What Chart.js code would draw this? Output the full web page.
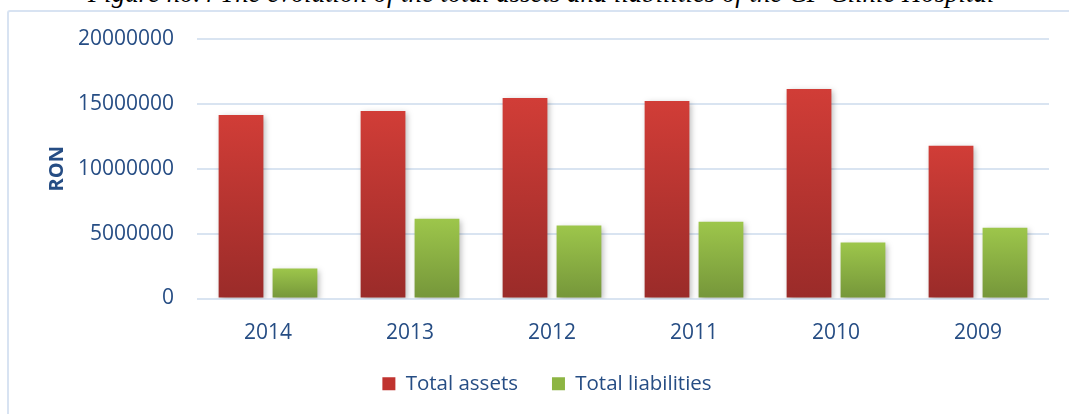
<!DOCTYPE html>
<html>
<head>
<meta charset="utf-8">
<script src="https://cdn.jsdelivr.net/npm/chart.js@4/dist/chart.umd.min.js"></script>
<style>
  html, body { margin: 0; padding: 0; background: #fff; overflow: hidden; }
  #wrap { position: relative; width: 1069px; height: 414px; }
  #title {
    position: absolute; left: 88px; top: -20px; white-space: nowrap;
    font-family: "Liberation Serif", serif; font-style: italic; font-size: 26.8px; line-height: 26px; color: #000;
  }
  #frame {
    position: absolute; left: 7px; top: 10px; width: 1100px; height: 450px;
    border-top: 2px solid #d8e3f2; border-left: 2px solid #d8e3f2; border-radius: 3px 0 0 0;
  }
  #c { position: absolute; left: 0; top: 0; }
</style>
</head>
<body>
<div id="wrap">
  <div id="title">Figure no.4 The evolution of the total assets and liabilities of the CF Clinic Hospital</div>
  <div id="frame"></div>
  <canvas id="c" width="1069" height="414"></canvas>
</div>
<script>
// values (RON)
const years = ['2014', '2013', '2012', '2011', '2010', '2009'];
const totalAssets = [14150000, 14460000, 15460000, 15230000, 16150000, 11770000];
const totalLiabilities = [2310000, 6150000, 5620000, 5920000, 4310000, 5460000];
const yTicks = [0, 5000000, 10000000, 15000000, 20000000];

const textBlue = '#264d84';

// vertical gradient running over each bar from its top to the baseline
function barGradient(top, bottom) {
  return function (ctx) {
    const chart = ctx.chart;
    const y = chart.scales.y;
    if (!y || ctx.raw == null) return bottom;
    const y0 = y.getPixelForValue(0);
    const y1 = y.getPixelForValue(ctx.raw);
    const g = chart.ctx.createLinearGradient(0, y1, 0, y0);
    g.addColorStop(0, top);
    g.addColorStop(1, bottom);
    return g;
  };
}

// soft drop shadow under the bars
const barShadow = {
  id: 'barShadow',
  beforeDatasetsDraw(chart) {
    const c = chart.ctx;
    c.save();
    c.shadowColor = 'rgba(0,0,0,0.28)';
    c.shadowBlur = 6;
    c.shadowOffsetX = 2;
    c.shadowOffsetY = 2;
  },
  afterDatasetsDraw(chart) {
    chart.ctx.restore();
  }
};

new Chart(document.getElementById('c'), {
  type: 'bar',
  data: {
    labels: years,
    datasets: [{
      label: 'Total assets',
      data: totalAssets,
      backgroundColor: barGradient('#d13d37', '#9a2b29'),
      borderWidth: 0,
      categoryPercentage: 0.76,
      barPercentage: 0.83
    }, {
      label: 'Total liabilities',
      data: totalLiabilities,
      backgroundColor: barGradient('#9dc64b', '#75963a'),
      borderWidth: 0,
      categoryPercentage: 0.76,
      barPercentage: 0.83
    }]
  },
  options: {
    responsive: false,
    animation: false,
    layout: { padding: { left: 45, right: 20, top: 39, bottom: 10 } },
    plugins: {
      tooltip: { enabled: false },
      legend: {
        position: 'bottom',
        labels: {
          color: textBlue,
          font: { family: 'Open Sans', size: 20.5 },
          boxWidth: 13,
          boxHeight: 13,
          padding: 34,
          generateLabels(chart) {
            const fills = ['#c0332f', '#8db543'];
            return chart.data.datasets.map((ds, i) => ({
              text: ds.label,
              fillStyle: fills[i],
              strokeStyle: fills[i],
              lineWidth: 0,
              fontColor: textBlue,
              datasetIndex: i
            }));
          }
        }
      }
    },
    scales: {
      x: {
        grid: { display: false, drawTicks: false },
        border: { display: false },
        ticks: { color: textBlue, font: { family: 'Open Sans', size: 21 }, padding: 22 },
        afterFit(scale) { scale.height = 41; }
      },
      y: {
        min: 0,
        max: 20000000,
        afterBuildTicks(scale) { scale.ticks = yTicks.map(v => ({ value: v })); },
        grid: { color: '#d9e4f1', lineWidth: 2, drawTicks: false },
        border: { display: false },
        ticks: {
          color: textBlue,
          font: { family: 'Open Sans', size: 21 },
          padding: 23,
          callback: v => String(v)
        },
        title: {
          display: true,
          text: 'RON',
          color: textBlue,
          font: { family: 'Open Sans', size: 20, weight: 'bold' },
          padding: { top: 0, bottom: 0 }
        },
        afterFit(scale) { scale.width = 152; }
      }
    }
  },
  plugins: [barShadow]
});
</script>
</body>
</html>
